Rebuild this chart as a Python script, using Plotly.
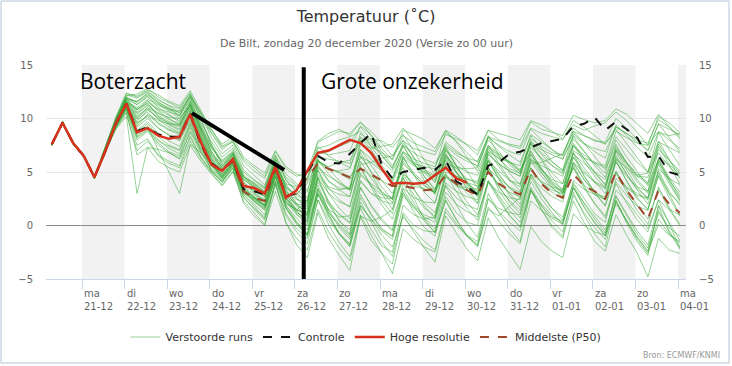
import pandas as pd
import plotly.graph_objects as go

# ---------------- data ----------------
times = pd.date_range("2020-12-20 07:00", periods=60, freq="6h")

hres = [7.6, 9.6, 7.7, 6.5, 4.5, 6.9, 9.5, 11.4, 8.7, 9.1, 8.4, 8.1, 8.3, 10.4, 7.8, 5.7,
        5.1, 6.2, 3.7, 3.5, 3.0, 5.5, 2.6, 3.3, 5.1, 6.8, 7.0, 7.5, 8.0, 7.7, 6.8, 5.3,
        3.9, 4.0, 3.9, 4.0, 4.7, 5.4, 4.4, 4.0]

control = [7.6, 9.6, 7.7, 6.5, 4.5, 6.9, 9.5, 11.4, 8.8, 9.2, 8.5, 8.3, 8.3, 10.5, 7.6, 5.8,
           5.1, 6.2, 3.4, 3.2, 2.9, 5.5, 2.7, 3.1, 5.0, 6.5, 5.9, 5.8, 6.7, 7.7, 8.6, 5.7,
           4.4, 5.0, 5.2, 5.4, 5.2, 6.1, 4.1, 3.6, 2.9, 5.6, 5.9, 6.7, 6.9, 7.3, 7.7, 7.9,
           8.1, 9.3, 9.5, 10.1, 8.9, 9.7, 9.0, 8.2, 6.4, 6.5, 5.0, 4.7]

median = [7.6, 9.6, 7.7, 6.5, 4.5, 6.9, 9.5, 11.4, 8.8, 9.1, 8.5, 8.3, 8.2, 10.3, 7.5, 5.7,
          5.1, 6.0, 3.2, 2.6, 2.3, 5.3, 2.8, 3.0, 4.5, 5.8, 5.3, 4.9, 4.5, 5.3, 4.8, 4.2,
          3.7, 3.7, 3.5, 3.3, 3.4, 4.7, 3.9, 3.3, 2.8, 5.0, 3.9, 3.3, 2.9, 5.3, 3.9, 3.0,
          2.6, 4.8, 3.7, 3.2, 2.5, 5.0, 3.3, 2.0, 0.6, 3.3, 2.0, 1.2]

members = [
    [7.7, 9.7, 7.6, 6.6, 4.6, 7.2, 9.8, 11.6, 10.2, 11.0, 10.5, 10.1, 10.0, 11.2, 9.0, 7.2, 6.0, 6.8, 4.5, 4.0, 3.4, 6.0, 3.5, 2.9, 4.1, 7.2, 7.5, 8.0, 8.3, 8.8, 7.4, 6.0, 5.1, 6.9, 6.2, 5.8, 5.5, 7.6, 6.8, 6.3, 6.0, 8.3, 7.9, 7.5, 7.2, 9.1, 8.6, 8.3, 8.0, 9.8, 9.2, 8.4, 7.6, 9.0, 7.7, 6.3, 5.0, 6.8, 5.5, 4.6],
    [7.6, 9.5, 7.7, 6.4, 4.4, 6.9, 9.3, 11.0, 8.2, 8.9, 7.9, 7.4, 7.0, 9.5, 7.0, 5.6, 4.8, 5.9, 3.0, 2.5, 1.8, 4.9, 1.6, 0.4, -0.8, 2.9, 1.2, 0.0, -1.1, 1.8, 0.6, -0.9, -2.0, 0.8, -0.4, -1.5, -2.3, 1.6, 0.2, -1.0, -1.8, 2.5, 1.3, 0.3, -0.5, 3.3, 2.0, 1.0, 0.2, 3.8, 2.1, 0.8, -0.4, 2.7, 0.9, -0.8, -2.1, 1.2, -0.2, -1.0],
    [7.5, 9.6, 7.8, 6.5, 4.5, 7.1, 9.9, 12.0, 11.3, 12.1, 11.0, 10.4, 9.6, 11.5, 8.8, 6.6, 5.5, 6.7, 4.0, 3.2, 2.7, 5.6, 2.5, 1.5, 1.0, 5.2, 3.5, 2.4, 1.7, 6.0, 4.4, 3.1, 2.5, 6.3, 4.9, 4.0, 3.2, 6.6, 5.0, 3.9, 3.0, 6.9, 5.5, 4.2, 3.6, 7.0, 5.2, 3.9, 3.1, 6.8, 4.6, 3.2, 2.4, 6.2, 4.1, 2.5, 1.5, 4.7, 3.0, 2.1],
    [7.6, 9.7, 7.6, 6.5, 4.6, 7.0, 9.4, 11.2, 9.2, 10.0, 9.1, 8.5, 8.0, 10.0, 7.5, 5.1, 4.0, 5.4, 2.1, 0.9, 0.0, 4.0, 0.3, -1.8, -3.0, 1.2, -1.2, -2.8, -4.2, 0.9, 0.4, 0.8, 1.5, 4.8, 4.0, 3.4, 3.1, 6.4, 5.6, 5.0, 4.7, 7.3, 6.4, 5.9, 5.1, 6.9, 5.3, 4.0, 3.1, 5.4, 3.5, 2.0, 0.7, 3.9, 2.1, 0.5, -0.6, 2.4, 1.5, 1.0],
    [7.7, 9.6, 7.7, 6.6, 4.5, 7.3, 10.1, 12.4, 12.0, 12.6, 11.8, 11.2, 10.5, 12.0, 10.2, 8.6, 7.1, 7.9, 6.2, 5.4, 4.6, 6.9, 5.3, 4.6, 5.0, 7.9, 8.6, 9.0, 8.4, 9.6, 8.8, 7.7, 6.5, 7.9, 7.2, 6.9, 6.6, 8.5, 8.1, 7.6, 7.0, 8.9, 8.6, 8.3, 8.0, 9.8, 9.4, 8.8, 8.1, 9.4, 8.9, 9.3, 9.6, 10.6, 9.8, 8.7, 7.5, 8.8, 8.0, 7.2],
    [7.6, 9.5, 7.6, 6.4, 4.4, 6.8, 9.1, 10.8, 7.5, 8.1, 6.6, 6.0, 5.6, 8.4, 6.4, 5.0, 4.1, 5.6, 3.3, 2.6, 2.0, 5.0, 2.3, 1.2, 0.6, 4.6, 3.4, 2.9, 2.7, 6.4, 5.9, 5.1, 4.4, 7.5, 6.8, 6.2, 5.8, 7.4, 5.6, 4.0, 2.8, 5.5, 3.3, 1.8, 0.7, 4.1, 2.5, 1.2, 0.1, 3.6, 1.7, 0.2, -1.0, 2.3, 0.4, -1.3, -2.6, 0.6, -0.8, -1.6],
    [7.5, 9.6, 7.7, 6.5, 4.5, 7.0, 9.6, 11.7, 10.8, 11.6, 10.9, 10.6, 10.3, 12.2, 10.6, 8.9, 7.4, 8.0, 6.0, 5.1, 4.4, 6.6, 4.8, 3.9, 3.3, 6.1, 5.3, 4.2, 3.3, 5.5, 3.6, 1.9, 0.6, 3.4, 1.8, 0.4, -0.6, 2.3, 0.5, -0.9, -1.9, 1.5, 0.9, 1.8, 2.6, 5.8, 5.9, 6.3, 6.7, 8.8, 8.4, 8.0, 7.6, 9.2, 8.6, 7.8, 7.0, 9.5, 9.0, 8.5],
    [7.6, 9.6, 7.7, 6.5, 4.5, 7.1, 9.7, 11.8, 11.6, 12.4, 11.5, 10.9, 10.2, 11.9, 9.4, 7.3, 5.9, 6.9, 4.6, 3.8, 3.1, 5.8, 3.6, 2.8, 2.3, 6.0, 5.5, 5.9, 6.1, 8.2, 7.1, 5.6, 4.4, 6.8, 5.7, 4.9, 4.1, 7.0, 6.2, 5.1, 3.5, 6.1, 4.3, 2.8, 1.7, 4.8, 3.0, 1.6, 0.5, 3.5, 1.8, 0.3, -0.9, 2.0, 0.4, -1.1, -2.4, 0.1, -0.9, -1.5],
    [7.7, 9.7, 7.8, 6.6, 4.6, 7.2, 9.5, 11.3, 9.7, 10.8, 10.1, 9.6, 9.2, 11.0, 8.3, 6.1, 4.8, 6.2, 3.8, 3.3, 2.9, 5.7, 3.9, 3.6, 4.4, 7.8, 8.3, 8.8, 8.6, 9.7, 8.4, 6.9, 5.6, 7.4, 5.8, 4.5, 3.3, 6.1, 4.4, 3.0, 2.0, 5.2, 3.6, 2.3, 1.4, 4.7, 3.5, 2.7, 2.2, 5.9, 4.9, 4.1, 3.6, 7.2, 5.9, 4.8, 4.0, 7.6, 6.1, 4.9],
    [7.6, 9.6, 7.7, 6.5, 4.5, 6.9, 9.0, 10.2, 3.0, 7.3, 7.1, 6.8, 6.3, 8.8, 7.2, 6.0, 5.2, 6.1, 3.6, 2.7, 1.9, 4.6, 1.8, 0.7, -0.4, 3.3, 2.0, 1.1, 0.3, 4.2, 3.0, 2.6, 2.5, 6.5, 5.8, 5.5, 5.3, 8.7, 7.9, 6.8, 5.9, 8.4, 6.5, 4.9, 3.8, 6.7, 5.0, 3.6, 2.6, 5.9, 4.3, 3.0, 1.9, 5.1, 3.4, 1.9, 0.6, 3.4, 1.5, 0.0],
    [7.5, 9.5, 7.6, 6.4, 4.4, 6.7, 9.2, 10.9, 8.6, 9.3, 7.0, 5.0, 3.0, 7.6, 6.8, 5.7, 4.6, 5.8, 2.9, 1.8, 0.6, 3.9, 1.1, -0.3, -1.2, 2.4, 0.5, -0.8, -1.9, 1.9, 0.6, -0.5, -1.3, 2.8, 1.6, 0.8, 0.3, 4.0, 3.2, 2.7, 2.4, 6.0, 5.1, 4.2, 3.9, 7.3, 6.3, 5.6, 5.0, 8.1, 6.9, 5.8, 4.9, 8.0, 6.4, 5.0, 3.7, 6.2, 4.3, 2.6],
    [7.6, 9.7, 7.7, 6.5, 4.5, 7.2, 10.0, 12.2, 11.9, 12.5, 11.7, 11.2, 10.9, 12.3, 10.4, 8.2, 6.7, 7.5, 5.2, 4.3, 3.5, 6.2, 4.5, 3.7, 3.1, 6.9, 6.6, 6.8, 7.0, 9.3, 8.5, 7.2, 6.1, 8.4, 7.7, 7.3, 6.9, 8.9, 8.3, 7.5, 6.6, 8.9, 8.0, 7.6, 7.4, 9.7, 9.0, 8.7, 8.4, 10.3, 9.9, 9.6, 9.8, 10.9, 10.4, 9.5, 8.6, 10.4, 9.3, 8.1],
    [7.6, 9.6, 7.6, 6.4, 4.4, 6.9, 9.3, 11.1, 8.4, 9.2, 8.0, 7.2, 6.7, 9.1, 6.9, 5.2, 4.2, 5.4, 2.7, 1.5, 0.5, 3.8, 0.9, -0.6, -1.7, 2.4, 0.1, -1.6, -2.9, 1.0, -0.9, -2.6, -4.5, -0.3, -1.3, -2.0, -2.5, 1.3, 0.0, -0.9, -1.5, 2.5, 1.6, 1.2, 1.0, 4.8, 4.1, 3.6, 3.3, 6.7, 5.8, 5.0, 4.3, 7.1, 5.5, 4.1, 3.0, 6.0, 4.1, 2.4],
    [7.5, 9.5, 7.8, 6.6, 4.6, 7.1, 9.8, 11.9, 10.6, 11.5, 10.8, 10.3, 9.8, 11.6, 9.6, 7.8, 6.4, 7.2, 5.0, 4.2, 3.6, 6.3, 4.2, 3.3, 2.6, 6.2, 4.8, 3.9, 3.3, 7.1, 5.6, 4.2, 3.0, 5.4, 3.4, 1.8, 0.7, 3.8, 2.6, 1.9, 1.5, 5.3, 4.4, 3.6, 3.1, 6.2, 4.9, 3.8, 3.0, 5.6, 3.7, 2.1, 0.9, 4.1, 2.8, 1.8, 1.4, 5.3, 4.4, 3.8],
    [7.6, 9.6, 7.7, 6.5, 4.5, 7.0, 9.4, 11.5, 10.1, 11.0, 9.9, 9.2, 8.7, 10.7, 8.0, 5.9, 4.6, 5.9, 3.4, 2.6, 1.9, 5.0, 2.5, 1.3, 0.4, 4.1, 2.3, 1.0, 0.2, 4.7, 3.9, 3.2, 2.1, 4.5, 2.5, 0.6, -0.7, 2.4, 0.6, -1.0, -2.0, 1.7, 0.4, -0.8, -1.7, 2.3, 1.4, 0.7, 0.1, 3.5, 2.1, 0.6, -0.7, 2.8, 1.1, -0.5, -1.8, 1.9, 0.3, -1.4],
    [7.7, 9.7, 7.7, 6.5, 4.5, 7.0, 9.5, 11.6, 11.0, 11.8, 11.2, 10.8, 10.6, 12.0, 9.9, 7.5, 5.6, 6.5, 4.3, 3.6, 2.9, 5.9, 3.6, 2.5, 1.7, 5.5, 4.1, 3.5, 3.4, 7.6, 7.2, 7.4, 7.6, 9.1, 7.9, 6.1, 4.8, 7.2, 5.6, 4.0, 3.2, 6.7, 5.7, 5.1, 4.6, 7.8, 7.1, 6.6, 6.2, 8.4, 7.6, 7.2, 6.9, 9.2, 8.6, 8.0, 7.7, 9.9, 9.2, 8.3],
    [7.6, 9.6, 7.6, 6.4, 4.4, 6.8, 9.2, 10.9, 8.0, 8.8, 7.5, 6.8, 6.2, 8.2, 6.4, 5.1, 4.1, 5.3, 2.9, 2.0, 1.0, 4.6, 1.9, 0.3, -0.8, 3.5, 1.4, 0.1, -0.9, 3.6, 1.8, 0.4, -0.5, 4.0, 2.1, 0.7, -0.3, 3.7, 1.9, 0.2, -1.1, 3.0, 1.2, -0.3, -1.5, 3.3, 1.5, 0.0, -1.0, 3.1, 1.0, -0.8, -2.0, 2.4, 0.2, -1.5, -2.8, 1.8, -0.6, -2.2],
    [7.5, 9.5, 7.7, 6.5, 4.5, 7.2, 9.9, 12.1, 12.3, 12.8, 12.0, 11.5, 11.0, 12.4, 10.0, 7.6, 5.8, 6.7, 4.6, 3.9, 3.2, 6.1, 3.8, 2.6, 1.5, 5.2, 3.0, 1.6, 0.6, 4.9, 3.7, 2.9, 2.6, 6.3, 5.6, 5.0, 4.6, 7.8, 7.0, 6.2, 5.5, 8.0, 6.9, 5.7, 4.8, 7.9, 6.8, 5.9, 5.2, 8.6, 7.7, 6.9, 6.3, 9.4, 8.4, 7.3, 6.4, 8.7, 7.1, 5.6],
    [7.6, 9.6, 7.7, 6.5, 4.5, 7.0, 9.6, 11.4, 9.5, 10.3, 9.6, 9.0, 8.6, 10.5, 8.2, 6.3, 5.1, 6.4, 4.0, 3.0, 2.3, 5.2, 2.6, 1.1, 0.0, 3.0, 1.5, 0.8, 0.9, 5.7, 5.9, 6.3, 6.5, 8.0, 6.3, 4.6, 3.4, 6.6, 5.3, 4.4, 3.9, 7.1, 6.2, 5.3, 4.9, 8.1, 7.4, 6.8, 6.6, 9.1, 8.4, 7.9, 7.8, 10.0, 9.1, 8.0, 7.0, 9.5, 8.2, 6.9],
    [7.6, 9.6, 7.7, 6.5, 4.5, 6.9, 9.2, 10.6, 6.6, 7.3, 6.0, 5.4, 5.0, 7.5, 6.0, 4.8, 3.7, 5.0, 2.3, 1.2, 0.1, 3.2, 0.2, -1.2, -2.3, 1.5, -0.6, -2.1, -3.3, 0.8, -1.4, -2.6, -3.6, 1.2, 0.0, -0.5, -0.6, 3.1, 2.0, 1.3, 0.8, 4.2, 2.8, 1.4, 0.3, 3.6, 1.9, 0.4, -0.6, 2.8, 1.2, -0.2, -1.3, 2.2, 0.5, -1.1, -2.4, 1.4, -0.5, -2.0],
    [7.5, 9.7, 7.8, 6.6, 4.6, 7.2, 9.7, 11.8, 11.3, 12.0, 11.3, 10.9, 10.7, 12.1, 10.5, 8.7, 7.3, 7.8, 5.6, 4.7, 3.8, 6.5, 4.3, 3.1, 2.0, 5.7, 4.2, 3.3, 2.7, 6.5, 5.0, 3.6, 2.4, 6.0, 4.7, 3.8, 3.0, 6.4, 5.0, 3.8, 2.8, 6.1, 4.4, 3.0, 2.0, 5.4, 4.0, 3.1, 2.5, 5.8, 4.3, 3.2, 2.4, 5.9, 4.6, 3.6, 3.2, 7.1, 6.1, 5.1],
    [7.6, 9.6, 7.6, 6.5, 4.5, 7.0, 9.3, 11.2, 8.9, 9.7, 8.6, 7.9, 7.4, 9.6, 7.6, 5.6, 4.4, 5.7, 3.1, 2.2, 1.5, 4.6, 2.2, 1.0, 0.4, 4.4, 3.0, 2.2, 1.8, 5.3, 3.8, 2.3, 1.1, 4.7, 3.4, 2.1, 1.2, 4.8, 3.2, 1.6, 0.5, 4.2, 2.6, 1.0, -0.2, 3.4, 1.5, -0.2, -1.2, 2.3, 0.3, -1.5, -2.4, 1.0, -0.9, -2.6, -4.8, -1.2, -2.3, -2.6],
    [7.7, 9.6, 7.7, 6.5, 4.5, 7.1, 9.8, 12.0, 11.5, 12.2, 11.5, 11.0, 10.3, 11.7, 9.2, 6.9, 5.3, 6.6, 4.1, 3.1, 2.4, 5.5, 3.0, 1.9, 1.2, 5.9, 5.2, 5.1, 5.3, 8.3, 7.4, 6.8, 6.2, 8.9, 8.5, 8.0, 7.2, 8.9, 7.8, 6.4, 5.1, 7.5, 5.8, 4.3, 3.2, 6.6, 5.3, 4.1, 3.4, 7.0, 6.3, 5.9, 5.6, 8.8, 8.2, 7.7, 7.5, 10.2, 9.6, 8.7],
    [7.6, 9.6, 7.7, 6.5, 4.5, 7.0, 9.5, 11.5, 10.4, 11.2, 10.3, 9.7, 9.3, 11.0, 8.6, 6.2, 5.0, 6.2, 3.5, 2.7, 2.2, 5.3, 2.8, 2.9, 3.9, 6.1, 5.3, 5.0, 4.6, 5.4, 4.6, 4.2, 3.6, 5.0, 3.7, 3.4, 3.2, 4.8, 3.7, 3.3, 2.9, 5.1, 3.8, 3.1, 2.7, 5.4, 4.0, 3.3, 3.0, 5.4, 3.8, 2.9, 2.4, 4.9, 3.6, 3.0, 2.4, 5.1, 3.2, 1.9],
    [7.5, 9.5, 7.6, 6.4, 4.4, 6.8, 9.0, 10.5, 7.0, 7.9, 6.5, 5.8, 5.4, 7.9, 6.2, 4.9, 3.8, 5.1, 2.6, 1.6, 0.8, 4.1, 1.6, 0.1, -1.0, 2.9, 0.8, -0.8, -1.7, 2.6, 1.0, -0.4, -1.0, 3.5, 2.6, 2.2, 2.1, 5.8, 5.4, 5.3, 5.4, 8.2, 7.5, 6.9, 6.6, 9.0, 8.0, 7.1, 6.2, 8.3, 6.9, 5.6, 4.5, 7.4, 5.9, 4.7, 4.9, 8.7, 8.4, 8.6],
    [7.6, 9.7, 7.7, 6.5, 4.5, 7.1, 9.7, 11.7, 10.9, 11.4, 10.2, 9.5, 9.0, 10.8, 8.4, 6.4, 5.3, 6.4, 4.3, 3.5, 2.7, 5.6, 3.3, 2.1, 1.0, 4.5, 2.2, 0.5, -0.8, 3.5, 1.9, 0.6, -0.4, 3.1, 1.3, -0.2, -1.0, 2.7, 1.2, 0.3, 0.0, 4.0, 3.1, 2.6, 2.4, 6.1, 5.6, 5.1, 4.6, 7.5, 6.3, 5.0, 3.8, 6.6, 4.8, 3.3, 2.0, 4.9, 2.9, 1.0],
    [7.6, 9.6, 7.7, 6.5, 4.5, 7.0, 9.4, 11.3, 9.9, 10.6, 9.5, 8.9, 8.5, 10.2, 7.8, 5.8, 4.5, 5.8, 3.2, 2.4, 1.7, 4.8, 2.2, 1.4, 1.3, 5.4, 4.6, 4.0, 3.4, 7.1, 6.2, 5.2, 4.0, 6.4, 4.7, 3.1, 2.1, 5.5, 4.6, 4.0, 3.7, 7.3, 6.6, 6.0, 5.2, 7.6, 6.2, 4.9, 3.9, 6.8, 5.4, 4.1, 3.0, 6.0, 4.2, 2.6, 1.5, 4.6, 2.6, 0.9],
    [7.5, 9.6, 7.7, 6.5, 4.5, 7.2, 10.0, 12.3, 12.1, 12.7, 12.2, 11.6, 11.2, 12.6, 10.8, 8.9, 7.6, 8.3, 6.4, 5.6, 4.9, 7.0, 5.5, 4.8, 4.4, 7.4, 6.5, 5.9, 5.4, 8.0, 6.6, 5.1, 4.2, 6.9, 5.9, 5.2, 4.7, 7.4, 6.6, 6.0, 5.6, 8.3, 7.4, 6.6, 5.9, 8.4, 7.2, 6.0, 5.1, 7.5, 6.0, 4.6, 3.5, 6.4, 4.8, 3.4, 2.6, 5.7, 3.9, 2.3],
    [7.6, 9.6, 7.7, 6.5, 4.5, 6.9, 9.2, 10.9, 8.8, 9.5, 8.3, 7.5, 7.1, 9.3, 7.3, 5.5, 4.4, 5.7, 3.3, 2.5, 1.8, 4.9, 2.7, 2.0, 1.9, 6.0, 5.4, 4.9, 4.3, 6.8, 4.9, 3.0, 1.5, 4.4, 2.9, 1.6, 0.9, 4.6, 3.9, 3.5, 3.4, 6.9, 6.3, 5.9, 5.6, 8.5, 7.8, 7.1, 6.5, 8.8, 7.7, 6.4, 5.2, 7.6, 5.8, 4.3, 3.2, 6.2, 4.5, 3.1],
    [7.6, 9.5, 7.6, 6.4, 4.4, 6.9, 9.4, 11.2, 9.6, 10.2, 9.1, 8.4, 7.9, 9.8, 7.6, 5.7, 4.5, 5.9, 3.5, 2.6, 1.9, 5.1, 2.6, 1.5, 0.9, 4.8, 3.6, 3.3, 3.6, 7.9, 8.1, 7.9, 7.3, 8.5, 7.0, 5.3, 4.0, 6.8, 5.0, 3.4, 2.1, 5.4, 3.7, 2.2, 1.1, 4.5, 2.9, 1.6, 0.8, 4.0, 2.5, 1.1, 0.3, 4.4, 3.5, 2.8, 2.6, 6.3, 5.7, 4.8],
    [7.6, 9.6, 7.7, 6.5, 4.5, 7.0, 9.5, 11.4, 10.0, 10.9, 10.0, 9.4, 8.9, 10.6, 8.1, 6.0, 4.7, 6.0, 3.3, 2.3, 1.4, 4.5, 1.6, 0.2, -0.9, 3.1, 1.0, -0.7, -1.8, 2.2, 0.3, -1.5, -2.9, 1.0, -0.6, -2.1, -3.4, 0.9, -0.7, -2.2, -3.3, 0.7, -1.2, -2.7, -4.1, -0.1, -1.5, -2.4, -3.0, 1.1, 0.0, -0.6, -0.9, 3.3, 2.3, 1.0, -0.3, 2.4, 0.1, -2.1],
    [7.7, 9.7, 7.8, 6.6, 4.6, 7.1, 9.6, 11.6, 10.5, 11.3, 10.5, 9.9, 9.5, 11.3, 9.2, 7.4, 6.1, 7.0, 4.8, 3.9, 3.1, 5.9, 3.3, 2.0, 1.1, 4.4, 2.0, 0.4, -0.4, 4.1, 3.0, 2.3, 2.0, 5.8, 4.7, 3.7, 3.1, 6.2, 4.9, 3.6, 2.7, 6.0, 4.7, 3.5, 2.9, 6.3, 5.2, 4.3, 3.9, 7.4, 6.6, 5.8, 5.4, 8.3, 7.1, 5.9, 5.0, 7.9, 6.2, 4.4],
    [7.6, 9.6, 7.6, 6.5, 4.5, 7.0, 9.3, 11.0, 8.3, 9.0, 7.7, 6.9, 6.5, 8.7, 6.8, 5.3, 4.3, 5.6, 3.2, 2.3, 1.6, 4.2, 2.0, 1.5, 2.2, 6.4, 6.2, 6.0, 5.8, 8.6, 7.7, 6.5, 5.3, 7.5, 5.9, 4.2, 2.9, 5.7, 3.8, 2.2, 1.0, 4.1, 2.4, 0.9, -0.1, 3.2, 1.8, 0.8, 0.4, 4.2, 3.4, 2.9, 2.7, 6.2, 5.4, 4.6, 4.5, 7.8, 7.3, 6.8],
    [7.5, 9.6, 7.7, 6.5, 4.5, 7.1, 9.8, 11.9, 11.6, 12.3, 11.4, 10.7, 10.0, 11.4, 9.0, 6.8, 5.4, 6.6, 4.4, 3.7, 3.0, 5.7, 3.1, 1.8, 0.7, 3.8, 1.4, -0.2, -1.3, 2.9, 1.1, -0.3, -1.0, 3.0, 1.8, 1.0, 0.6, 4.5, 3.8, 3.3, 2.9, 6.6, 5.8, 5.1, 4.6, 7.7, 6.6, 5.6, 4.8, 7.7, 6.3, 4.9, 3.8, 6.9, 5.2, 3.6, 2.5, 5.9, 4.3, 2.8],
    [7.6, 9.6, 7.7, 6.5, 4.5, 7.0, 9.5, 11.5, 10.8, 11.7, 10.7, 10.0, 9.4, 11.2, 8.7, 6.6, 5.2, 6.3, 3.7, 2.9, 2.3, 5.4, 3.1, 2.4, 2.3, 6.7, 6.9, 7.4, 7.8, 9.2, 8.0, 6.6, 5.4, 7.7, 6.4, 5.1, 4.3, 7.1, 5.6, 4.1, 3.0, 6.3, 4.8, 3.5, 2.6, 6.0, 4.6, 3.5, 2.8, 6.4, 5.1, 4.0, 3.4, 7.0, 5.8, 4.6, 3.9, 7.4, 5.7, 3.9],
    [7.6, 9.5, 7.6, 6.4, 4.4, 6.9, 9.4, 11.3, 9.3, 10.4, 9.8, 9.5, 9.4, 11.3, 9.0, 6.9, 5.6, 6.8, 4.6, 3.6, 2.7, 5.5, 2.9, 1.4, 0.2, 3.4, 1.1, -0.8, -2.0, 1.6, -0.4, -1.9, -2.5, 1.9, 1.0, 0.6, 0.8, 5.0, 4.6, 4.3, 4.1, 7.5, 6.7, 5.9, 5.0, 7.7, 6.1, 4.5, 3.2, 6.4, 4.7, 3.1, 1.8, 5.0, 3.1, 1.4, 0.1, 3.6, 1.7, 0.1],
]
assert all(len(m) == 60 for m in members), [len(m) for m in members]

day_ticks = pd.date_range("2020-12-21", "2021-01-04", freq="D")
day_names = ["ma", "di", "wo", "do", "vr", "za", "zo", "ma", "di", "wo", "do", "vr", "za", "zo", "ma"]
day_dates = ["21-12", "22-12", "23-12", "24-12", "25-12", "26-12", "27-12", "28-12",
             "29-12", "30-12", "31-12", "01-01", "02-01", "03-01", "04-01"]
band_starts = ["2020-12-21", "2020-12-23", "2020-12-25", "2020-12-27", "2020-12-29",
               "2020-12-31", "2021-01-02", "2021-01-04"]

# ---------------- figure ----------------
fig = go.Figure()
GREEN = "rgba(50,165,50,0.5)"
for i, m in enumerate(members):
    fig.add_trace(go.Scatter(
        x=times, y=m, mode="lines", line=dict(color=GREEN, width=1),
        name="Verstoorde runs", legendgroup="ens", showlegend=(i == 0),
        legendrank=1, hoverinfo="skip"))

fig.add_trace(go.Scatter(x=times, y=median, mode="lines", name="Middelste (P50)",
                         line=dict(color="#a0462c", width=2, dash="dash"), legendrank=4))
fig.add_trace(go.Scatter(x=times, y=control, mode="lines", name="Controle",
                         line=dict(color="#111111", width=2, dash="dash"), legendrank=2))
fig.add_trace(go.Scatter(x=times[:len(hres)], y=hres, mode="lines", name="Hoge resolutie",
                         line=dict(color="#d8321f", width=2.5), legendrank=3))
fig.add_trace(go.Scatter(x=[], y=[], yaxis="y2", showlegend=False, hoverinfo="skip"))

shapes = []
for s in band_starts:
    e = (pd.Timestamp(s) + pd.Timedelta(days=1)).strftime("%Y-%m-%d")
    shapes.append(dict(type="rect", xref="x", yref="paper", x0=s, x1=e, y0=0, y1=1,
                       fillcolor="#f2f2f2", line=dict(width=0), layer="below"))
# hand-drawn markings
shapes.append(dict(type="line", xref="x", yref="y", x0="2020-12-26 05:00", x1="2020-12-26 05:00",
                   y0=-5.1, y1=14.8, line=dict(color="black", width=4)))
shapes.append(dict(type="line", xref="x", yref="y", x0="2020-12-23 14:00", x1="2020-12-25 18:00",
                   y0=10.5, y1=5.2, line=dict(color="black", width=4)))
# outer frame
shapes.append(dict(type="rect", xref="paper", yref="paper",
                   x0=(1 - 46) / 640, x1=(729 - 46) / 640, y0=(279 - 363) / 214, y1=(279 - 1) / 214,
                   line=dict(color="#b4c6d6", width=1), fillcolor="rgba(0,0,0,0)", layer="above"))

annotations = []
for d, n, dt in zip(day_ticks, day_names, day_dates):
    annotations.append(dict(x=d, xref="x", y=(279 - 286) / 214, yref="paper", xanchor="left",
                            yanchor="top", align="left", showarrow=False,
                            text=f"{n}<br>{dt}", font=dict(family="DejaVu Sans", size=10, color="#666")))
annotations.append(dict(x=0.5, xref="paper", y=(279 - 44) / 214, yref="paper", showarrow=False,
                        text="De Bilt, zondag 20 december 2020 (Versie zo 00 uur)",
                        font=dict(family="DejaVu Sans", size=11, color="#666"), yanchor="middle"))
annotations.append(dict(x=(722 - 46) / 640, xref="paper", y=(279 - 355) / 214, yref="paper",
                        showarrow=False, xanchor="right", yanchor="middle", text="Bron: ECMWF/KNMI",
                        font=dict(family="DejaVu Sans", size=8, color="#999")))
annotations.append(dict(x="2020-12-20 22:00", xref="x", y=13.5, yref="y", xanchor="left",
                        yanchor="middle", showarrow=False, text="Boterzacht",
                        font=dict(family="Open Sans", size=21, color="black")))
annotations.append(dict(x="2020-12-26 13:30", xref="x", y=13.5, yref="y", xanchor="left",
                        yanchor="middle", showarrow=False, text="Grote onzekerheid",
                        font=dict(family="Open Sans", size=21, color="black")))

yticks = [-5, 0, 5, 10, 15]
fig.update_layout(
    width=732, height=366,
    margin=dict(l=46, r=46, t=65, b=87, autoexpand=False),
    paper_bgcolor="white", plot_bgcolor="white",
    title=dict(text="Temperatuur (˚C)", x=0.5, xanchor="center", y=1 - 16 / 366, yanchor="middle",
               font=dict(family="DejaVu Sans", size=16, color="#333")),
    xaxis=dict(range=["2020-12-20 03:42", "2021-01-04 04:30"], tickvals=day_ticks,
               showticklabels=False, ticks="outside", ticklen=9, tickcolor="#ccd6eb",
               showgrid=False, showline=True, linecolor="#ccd6eb", zeroline=False),
    yaxis=dict(range=[-5, 15], tickvals=yticks, showgrid=True, gridcolor="#e6e6e6",
               zeroline=True, zerolinecolor="#8c8c8c", zerolinewidth=1,
               ticks="outside", ticklen=10, tickcolor="rgba(0,0,0,0)",
               tickfont=dict(family="DejaVu Sans", size=10, color="#666")),
    yaxis2=dict(range=[-5, 15], tickvals=yticks, overlaying="y", side="right", showgrid=False,
                zeroline=False, ticks="outside", ticklen=10, tickcolor="rgba(0,0,0,0)",
                tickfont=dict(family="DejaVu Sans", size=10, color="#666")),
    legend=dict(orientation="h", x=0.5, xanchor="center", y=(279 - 337) / 214, yanchor="middle",
                font=dict(family="DejaVu Sans", size=11, color="#333"), bgcolor="rgba(0,0,0,0)",
                itemwidth=30),
    shapes=shapes, annotations=annotations, showlegend=True,
)

fig.write_html("out.html", config={"displayModeBar": False},
               post_script="document.body.style.margin='0';document.body.style.overflow='hidden';")
